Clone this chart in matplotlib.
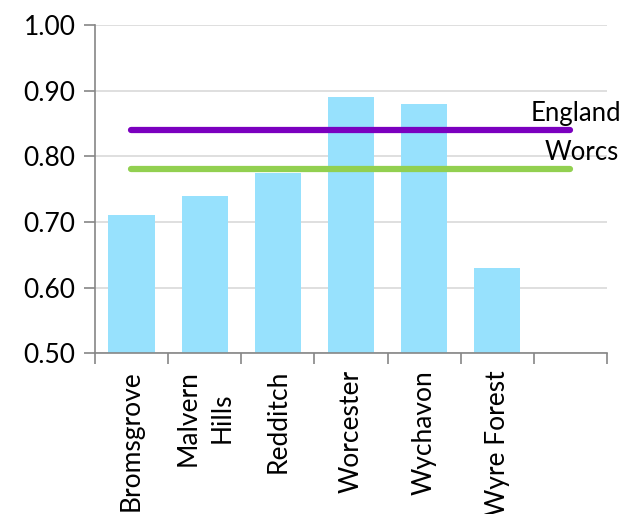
import numpy as np
import matplotlib.pyplot as plt
from matplotlib.ticker import FixedLocator

# data
districts = ['Bromsgrove', 'Malvern\nHills', 'Redditch', 'Worcester', 'Wychavon', 'Wyre Forest', '']
values = [0.71, 0.74, 0.775, 0.89, 0.88, 0.63, np.nan]
england = 0.84
worcs = 0.78

plt.rcParams['font.family'] = ['Lato', 'DejaVu Sans']

fig = plt.figure(figsize=(6.37, 5.14), dpi=100)
ax = fig.add_axes([0.149, 0.313, 0.804, 0.638])

x = np.arange(len(districts))
ax.bar(x, values, width=0.63, color='#97E1FD', zorder=2)

# reference lines from first to last slot
ax.plot([x[0], x[-1]], [england, england], color='#7B00BF', lw=4.5,
        solid_capstyle='round', zorder=3)
ax.plot([x[0], x[-1]], [worcs, worcs], color='#92D050', lw=4.5,
        solid_capstyle='round', zorder=3)
ax.text(x[-1] + 0.08, england + 0.007, 'England', fontsize=18.5,
        ha='center', va='bottom', zorder=4)
ax.text(x[-1] + 0.15, worcs + 0.007, 'Worcs', fontsize=18.5,
        ha='center', va='bottom', zorder=4)

ax.set_xlim(-0.5, len(districts) - 0.5)
ax.set_ylim(0.5, 1.0)
ax.set_yticks(np.arange(0.5, 1.01, 0.1))
ax.set_yticklabels([f'{v:.2f}' for v in np.arange(0.5, 1.01, 0.1)], fontsize=19)
ax.yaxis.grid(True, color='#D9D9D9', lw=1.2, zorder=0)
ax.set_axisbelow(True)

ax.set_xticks(x)
ax.set_xticklabels(districts, rotation=90, fontsize=19, multialignment='center',
                   linespacing=1.45)
ax.xaxis.set_minor_locator(FixedLocator(np.arange(-0.5, len(districts), 1.0)))
ax.tick_params(axis='x', which='major', length=0, pad=12)
ax.tick_params(axis='x', which='minor', length=8, color='#868686', width=1.2)
ax.tick_params(axis='y', length=8, color='#868686', width=1.2, pad=6)

for s in ['top', 'right']:
    ax.spines[s].set_visible(False)
for s in ['left', 'bottom']:
    ax.spines[s].set_color('#868686')
    ax.spines[s].set_linewidth(1.2)

fig.savefig('out.png', dpi=100)
